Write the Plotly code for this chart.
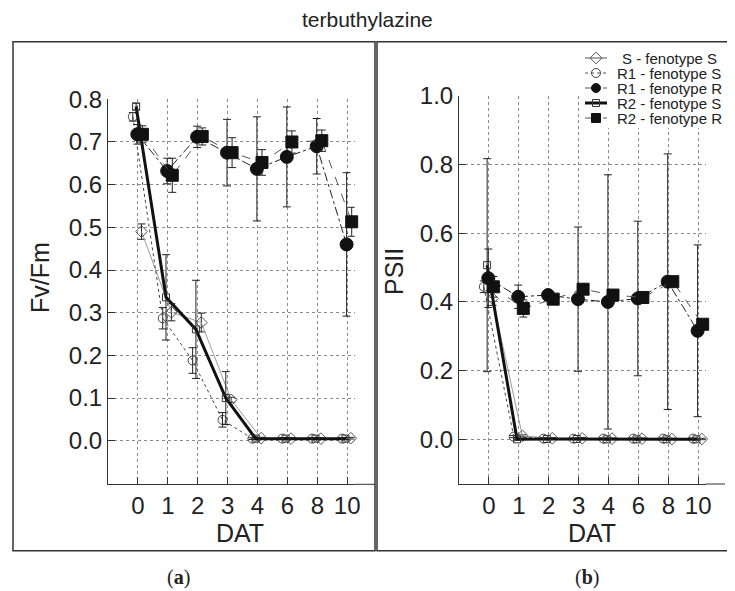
import plotly.graph_objects as go

W, H = 735, 591
OFF = 8  # the page body has an 8 px margin; positions below are page pixels

# ---------------- data ----------------
DAT = ['0', '1', '2', '3', '4', '6', '8', '10']
series_names = ['S - fenotype S', 'R1 - fenotype S', 'R1 - fenotype R',
                'R2 - fenotype S', 'R2 - fenotype R']

# (a) Fv/Fm
fv_S = [0.490, 0.301, 0.277, 0.096, 0.006, 0.005, 0.005, 0.006]
fv_S_err = [0.018, 0.020, 0.022, 0.006, 0.002, 0.002, 0.002, 0.002]
fv_R1S = [0.759, 0.287, 0.188, 0.049, 0.005, 0.005, 0.005, 0.005]
fv_R1S_err = [0.010, 0.025, 0.030, 0.017, 0.002, 0.002, 0.002, 0.002]
fv_R1R = [0.718, 0.632, 0.712, 0.675, 0.637, 0.665, 0.690, 0.460]
fv_R1R_err = [0.023, 0.030, 0.025, 0.078, 0.122, 0.117, 0.065, 0.168]
fv_R2S = [0.783, 0.336, 0.261, 0.100, 0.005, 0.005, 0.005, 0.005]
fv_R2S_err = [0.008, 0.100, 0.115, 0.062, 0.002, 0.002, 0.002, 0.002]
fv_R2R = [0.718, 0.622, 0.713, 0.675, 0.652, 0.700, 0.703, 0.513]
fv_R2R_err = [0.020, 0.040, 0.020, 0.035, 0.030, 0.026, 0.025, 0.034]

# (b) PSII
ps_S = [0.410, 0.010, 0.003, 0.003, 0.002, 0.002, 0.001, 0.001]
ps_S_err = [0.020, 0.003, 0.002, 0.002, 0.002, 0.002, 0.002, 0.002]
ps_R1S = [0.444, 0.008, 0.002, 0.002, 0.002, 0.002, 0.002, 0.002]
ps_R1S_err = [0.017, 0.003, 0.002, 0.002, 0.002, 0.002, 0.002, 0.002]
ps_R1R = [0.469, 0.415, 0.420, 0.408, 0.400, 0.410, 0.459, 0.316]
ps_R1R_err = [0.085, 0.034, 0.010, 0.210, 0.370, 0.225, 0.372, 0.250]
ps_R2S = [0.507, 0.000, 0.001, 0.001, 0.000, 0.000, 0.000, 0.000]
ps_R2S_err = [0.310, 0.002, 0.002, 0.002, 0.002, 0.002, 0.002, 0.002]
ps_R2R = [0.444, 0.381, 0.408, 0.437, 0.420, 0.413, 0.459, 0.335]
ps_R2R_err = [0.030, 0.025, 0.010, 0.010, 0.010, 0.010, 0.010, 0.010]

fv_tickvals = [0.0, 0.1, 0.2, 0.3, 0.4, 0.5, 0.6, 0.7, 0.8]
ps_tickvals = [0.0, 0.2, 0.4, 0.6, 0.8, 1.0]

# ---------------- styles ----------------
FONT = 'Liberation Sans, Arial, sans-serif'
styles = [
    dict(symbol='diamond-open', msize=9, mcolor='#555555', lcolor='#9a9a9a', dash='solid', lwidth=1, dodge=0.12),
    dict(symbol='circle-open', msize=9, mcolor='#444444', lcolor='#444444', dash='dot', lwidth=1, dodge=-0.17),
    dict(symbol='circle', msize=13, mcolor='#111111', lcolor='#222222', dash='dashdot', lwidth=1, dodge=-0.02),
    dict(symbol='square-open', msize=7, mcolor='#333333', lcolor='#111111', dash='solid', lwidth=3, dodge=-0.06),
    dict(symbol='square', msize=12, mcolor='#111111', lcolor='#555555', dash='dash', lwidth=1, dodge=0.15),
]
draw_order = [0, 1, 3, 2, 4]

def px(x):
    return (x - OFF) / W

def py(y):
    return 1 - (y - OFF) / H

fig = go.Figure()

panels = [
    ('x', 'y', [fv_S, fv_R1S, fv_R1R, fv_R2S, fv_R2R],
     [fv_S_err, fv_R1S_err, fv_R1R_err, fv_R2S_err, fv_R2R_err]),
    ('x2', 'y2', [ps_S, ps_R1S, ps_R1R, ps_R2S, ps_R2R],
     [ps_S_err, ps_R1S_err, ps_R1R_err, ps_R2S_err, ps_R2R_err]),
]

for xa, ya, vals, errs in panels:
    for i in draw_order:
        st = styles[i]
        xs = [k + st['dodge'] for k in range(len(DAT))]
        fig.add_trace(go.Scatter(
            x=xs, y=vals[i], xaxis=xa, yaxis=ya, mode='lines+markers',
            name=series_names[i], showlegend=False, cliponaxis=False,
            line=dict(color=st['lcolor'], width=st['lwidth'], dash=st['dash']),
            marker=dict(symbol=st['symbol'], size=st['msize'], color=st['mcolor'],
                        line=dict(color=st['mcolor'], width=1)),
            error_y=dict(type='data', array=errs[i], visible=True,
                         color='#222222', thickness=1, width=4),
        ))

# ---------------- hand-made legend (own small axis, 1 unit = 1 px) ----------------
LEG_X0, LEG_X1, LEG_Y0, LEG_Y1 = 580, 735, 45, 128
fig.add_trace(go.Scatter(
    x=[0, LEG_X1 - LEG_X0, LEG_X1 - LEG_X0, 0, 0], y=[LEG_Y0, LEG_Y0, LEG_Y1, LEG_Y1, LEG_Y0],
    xaxis='x3', yaxis='y3', mode='lines', fill='toself', fillcolor='white',
    line=dict(width=0, color='white'), showlegend=False, hoverinfo='skip'))
for i, name in enumerate(series_names):
    st = styles[i]
    ry = 58 + 15 * i
    fig.add_trace(go.Scatter(
        x=[5, 27], y=[ry, ry], xaxis='x3', yaxis='y3', mode='lines', showlegend=False,
        line=dict(color=st['lcolor'] if st['lwidth'] > 1 else '#555555',
                  width=st['lwidth'], dash=st['dash']), hoverinfo='skip'))
    fig.add_trace(go.Scatter(
        x=[16], y=[ry], xaxis='x3', yaxis='y3', mode='markers', showlegend=False,
        cliponaxis=False,
        marker=dict(symbol=st['symbol'], size=min(st['msize'], 9), color=st['mcolor'],
                    line=dict(color=st['mcolor'], width=1)), hoverinfo='skip'))
    fig.add_annotation(x=89, y=ry, xref='x3', yref='y3', text=name, showarrow=False,
                       xanchor='center', yanchor='middle',
                       font=dict(family=FONT, size=15, color='#222222'))

# ---------------- axes ----------------
axis_common = dict(showline=True, linecolor='#333333', linewidth=1,
                   ticks='inside', ticklen=7, tickcolor='#333333', tickwidth=1,
                   showgrid=True, gridcolor='#8a8a8a', gridwidth=1, griddash='dot',
                   zeroline=False, automargin=False,
                   tickfont=dict(family=FONT, size=24, color='#222222'))

XR = [-1, 7.25]
unit = 29.9
xw = (XR[1] - XR[0]) * unit

fig.update_layout(
    width=W, height=H, autosize=False,
    margin=dict(l=0, r=0, t=0, b=0, pad=0, autoexpand=False),
    paper_bgcolor='white', plot_bgcolor='white', showlegend=False,
    xaxis=dict(domain=[px(108), px(108 + xw)], range=XR, anchor='y',
               tickvals=list(range(len(DAT))), ticktext=DAT, **axis_common),
    yaxis=dict(domain=[py(484.3), py(99.3)], range=[-0.102, 0.8], anchor='x',
               tickvals=fv_tickvals, tickformat='.1f', **axis_common),
    xaxis2=dict(domain=[px(459), px(459 + xw)], range=XR, anchor='y2',
                tickvals=list(range(len(DAT))), ticktext=DAT, **axis_common),
    yaxis2=dict(domain=[py(484), py(95.8)], range=[-0.13, 1.0], anchor='x2',
                tickvals=ps_tickvals, tickformat='.1f', **axis_common),
    xaxis3=dict(domain=[px(LEG_X0), px(LEG_X1)], range=[0, LEG_X1 - LEG_X0], visible=False,
                fixedrange=True, anchor='y3', automargin=False),
    yaxis3=dict(domain=[py(LEG_Y1), py(LEG_Y0)], range=[LEG_Y1, LEG_Y0], visible=False,
                fixedrange=True, anchor='x3', automargin=False),
)

# panel frames and axis-line extensions
shapes = [
    dict(type='rect', xref='paper', yref='paper', x0=px(13), x1=px(375), y0=py(550.7), y1=py(41.7),
         line=dict(color='#333333', width=1.5)),
    dict(type='rect', xref='paper', yref='paper', x0=px(377), x1=px(734), y0=py(550.7), y1=py(41.7),
         line=dict(color='#333333', width=1.5)),
    dict(type='line', xref='paper', yref='paper', x0=px(108 + xw), x1=px(375), y0=py(484.3), y1=py(484.3),
         line=dict(color='#333333', width=1)),
    dict(type='line', xref='paper', yref='paper', x0=px(459 + xw), x1=px(725), y0=py(484), y1=py(484),
         line=dict(color='#333333', width=1)),
]
fig.update_layout(shapes=shapes)

# titles and labels
texts = [
    dict(x=px(367), y=py(20), text='terbuthylazine', size=21, angle=0, fam=FONT),
    dict(x=px(240), y=py(533), text='DAT', size=25, angle=0, fam=FONT),
    dict(x=px(592), y=py(533), text='DAT', size=25, angle=0, fam=FONT),
    dict(x=px(40), y=py(277), text='Fv/Fm', size=25, angle=-90, fam=FONT),
    dict(x=px(394), y=py(272), text='PSII', size=25, angle=-90, fam=FONT),
    dict(x=px(178), y=py(577), text='(<b>a</b>)', size=20, angle=0, fam='Liberation Serif, serif'),
    dict(x=px(587), y=py(577), text='(<b>b</b>)', size=20, angle=0, fam='Liberation Serif, serif'),
]
for t in texts:
    fig.add_annotation(x=t['x'], y=t['y'], xref='paper', yref='paper', text=t['text'],
                       showarrow=False, textangle=t['angle'], xanchor='center', yanchor='middle',
                       font=dict(family=t['fam'], size=t['size'], color='#222222'))

fig.write_html('out.html')
